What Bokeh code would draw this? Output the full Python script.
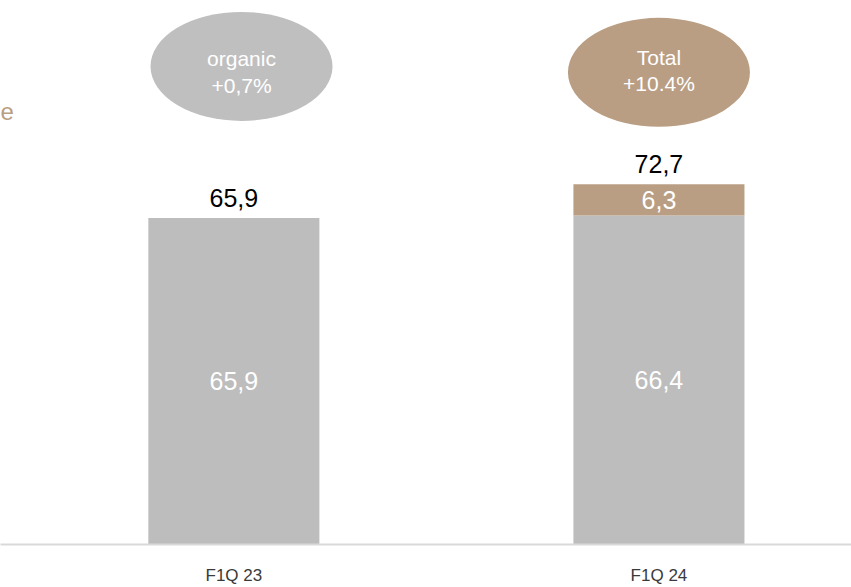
from bokeh.plotting import figure
from bokeh.models import ColumnDataSource, FixedTicker, Range1d, Label
from bokeh.core.properties import value
from bokeh.embed import file_html
from bokeh.resources import INLINE

categories = ["F1Q 23", "F1Q 24"]
base_values = [65.9, 66.4]
acq_values = [0.0, 6.3]
totals = [65.9, 72.7]
base_labels = ["65,9", "66,4"]
acq_labels = ["", "6,3"]
total_labels = ["65,9", "72,7"]
bubble_texts = ["organic\n+0,7%", "Total\n+10.4%"]

GRAY = "#bdbdbd"
BUBBLE_GRAY = "#bfbfbf"
TAN = "#b99e84"
FONT = "Liberation Sans"

xs = list(range(len(categories)))

p = figure(width=851, height=587, output_backend="svg", toolbar_location=None,
           x_range=Range1d(-0.549, 1.453), y_range=Range1d(0, 109.8),
           min_border_left=0, min_border_right=0, min_border_top=0, min_border_bottom=0)
p.outline_line_color = None
p.grid.visible = False
p.yaxis.visible = False
p.background_fill_color = "white"

xa = p.xaxis[0]
xa.ticker = FixedTicker(ticks=xs)
xa.major_label_overrides = {i: c for i, c in enumerate(categories)}
xa.major_tick_line_color = None
xa.minor_tick_line_color = None
xa.axis_line_color = "#d9d9d9"
xa.axis_line_width = 2
xa.major_label_text_font = FONT
xa.major_label_text_font_size = "17px"
xa.major_label_text_color = "#3a3a3a"
xa.major_label_standoff = 15

src = ColumnDataSource(dict(
    x=xs,
    base=base_values,
    acq_bottom=base_values,
    acq_top=[b + a for b, a in zip(base_values, acq_values)],
    base_mid=[b / 2 for b in base_values],
    acq_mid=[b + a / 2 for b, a in zip(base_values, acq_values)],
    total=totals,
    base_lab=base_labels,
    acq_lab=acq_labels,
    total_lab=total_labels,
))

p.vbar(x="x", top="base", bottom=0, width=0.4024, color=GRAY, line_color=None, source=src)
p.vbar(x="x", top="acq_top", bottom="acq_bottom", width=0.4024, color=TAN, line_color=None, source=src)

p.text(x="x", y="base_mid", text="base_lab", source=src, text_align="center",
       text_baseline="middle", text_color="white", text_font=value(FONT), text_font_size="25px")
p.text(x="x", y="acq_mid", text="acq_lab", source=src, text_align="center",
       text_baseline="middle", text_color="white", text_font=value(FONT), text_font_size="25px")
p.text(x="x", y="total", text="total_lab", source=src, text_align="center",
       text_baseline="middle", text_color="black", text_font=value(FONT), text_font_size="25px",
       y_offset=-20)

bsrc = ColumnDataSource(dict(x=[0.018, 1.0], y=[96.5, 95.3], ty=[95.4, 95.7],
                             txt=bubble_texts, col=[BUBBLE_GRAY, TAN]))
p.ellipse(x="x", y="y", width=182, height=109, width_units="screen", height_units="screen",
          fill_color="col", line_color=None, source=bsrc)
p.text(x="x", y="ty", text="txt", source=bsrc, text_align="center", text_baseline="middle",
       text_color="white", text_font=value(FONT), text_font_size="21px", text_line_height=1.15)

p.add_layout(Label(x=-0.549, y=87.3, text="e", text_color=TAN, text_font=FONT,
                   text_font_size="24px", text_baseline="middle", text_align="left"))

open("out.html", "w").write(file_html(p, INLINE))
